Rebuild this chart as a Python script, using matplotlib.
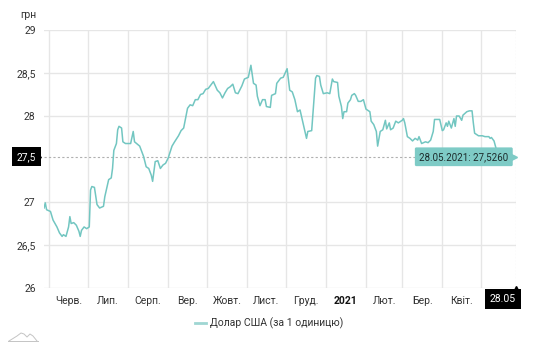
import matplotlib
matplotlib.use("Agg")
import matplotlib.pyplot as plt
import matplotlib.transforms as mtransforms
from matplotlib.lines import Line2D
import pandas as pd

plt.rcParams['font.family'] = ['Roboto', 'DejaVu Sans']

# USD/UAH official rate, days counted from the start date
start_date = "2020-05-28"
end_date = "2021-05-28"
day_offsets = [
    0, 1, 2, 5, 7, 10, 12, 14, 15, 17, 19, 20, 21, 23, 25, 27, 28, 29, 31, 33,
    35, 36, 37, 39, 41, 43, 46, 47, 50, 52, 53, 54, 56, 57, 58, 60, 61, 63, 67, 69,
    70, 74, 77, 79, 81, 83, 84, 86, 88, 90, 92, 94, 96, 99, 101, 104, 106, 108, 111, 113,
    115, 117, 119, 121, 123, 125, 127, 130, 131, 134, 136, 138, 140, 142, 144, 146, 148, 150, 153, 155,
    158, 160, 162, 164, 165, 167, 169, 171, 172, 175, 176, 179, 180, 183, 185, 188, 190, 192, 194, 196,
    198, 200, 203, 204, 207, 210, 211, 213, 214, 216, 219, 221, 223, 224, 227, 228, 230, 231, 232, 234,
    235, 237, 238, 240, 241, 243, 245, 247, 249, 252, 253, 255, 257, 258, 260, 262, 264, 265, 267, 268,
    270, 272, 274, 277, 278, 279, 281, 283, 285, 287, 289, 290, 292, 295, 297, 299, 301, 302, 304, 306,
    308, 309, 311, 312, 313, 315, 317, 318, 319, 321, 323, 324, 327, 329, 331, 332, 333, 336, 339, 341,
    344, 345, 346, 348, 350, 353, 357, 360, 363, 365,
]
usd_rate = [
    26.93, 26.99, 26.91, 26.89, 26.79, 26.71, 26.64, 26.60, 26.62, 26.60,
    26.71, 26.83, 26.75, 26.76, 26.73, 26.66, 26.60, 26.67, 26.71, 26.69,
    26.71, 27.14, 27.18, 27.17, 26.97, 26.93, 26.95, 27.06, 27.26, 27.28,
    27.39, 27.60, 27.68, 27.84, 27.88, 27.86, 27.70, 27.68, 27.68, 27.82,
    27.70, 27.65, 27.53, 27.41, 27.39, 27.31, 27.24, 27.47, 27.48, 27.39,
    27.43, 27.45, 27.51, 27.65, 27.70, 27.77, 27.83, 27.86, 28.09, 28.13,
    28.12, 28.19, 28.19, 28.25, 28.26, 28.31, 28.32, 28.38, 28.40, 28.30,
    28.27, 28.21, 28.27, 28.32, 28.34, 28.37, 28.27, 28.26, 28.35, 28.43,
    28.45, 28.59, 28.38, 28.36, 28.23, 28.12, 28.19, 28.19, 28.11, 28.10,
    28.24, 28.26, 28.38, 28.44, 28.45, 28.55, 28.30, 28.28, 28.19, 28.05,
    28.07, 27.94, 27.74, 27.82, 27.83, 28.44, 28.47, 28.46, 28.36, 28.26,
    28.27, 28.26, 28.43, 28.40, 28.39, 28.23, 28.11, 27.97, 28.05, 28.05,
    28.15, 28.19, 28.24, 28.26, 28.24, 28.17, 28.17, 28.19, 28.08, 28.05,
    27.94, 27.90, 27.82, 27.65, 27.82, 27.84, 27.95, 27.85, 27.92, 27.84,
    27.86, 27.94, 27.92, 27.95, 27.97, 27.92, 27.76, 27.74, 27.71, 27.74,
    27.72, 27.76, 27.68, 27.70, 27.69, 27.72, 27.82, 27.96, 27.96, 27.96,
    27.83, 27.84, 27.92, 27.88, 27.94, 27.86, 27.97, 27.88, 28.00, 28.00,
    27.95, 28.01, 28.05, 28.06, 28.06, 27.92, 27.80, 27.77, 27.77, 27.76,
    27.76, 27.74, 27.75, 27.71, 27.60, 27.57, 27.50, 27.50, 27.53, 27.526,
]

month_labels = ['Черв.', 'Лип.', 'Серп.', 'Вер.', 'Жовт.', 'Лист.', 'Груд.',
                '2021', 'Лют.', 'Бер.', 'Квіт.']
y_ticks = [26, 26.5, 27, 28, 28.5, 29]
series_name = 'Долар США (за 1 одиницю)'

line_color = '#72c6c1'
tip_color = '#7ecbc6'
grid_color = '#e6e6e6'
text_color = '#333333'

dates = pd.Timestamp(start_date) + pd.to_timedelta(day_offsets, unit='D')
t0 = pd.Timestamp(start_date)
t1 = pd.Timestamp(end_date)
last_val = usd_rate[-1]

fig = plt.figure(figsize=(5.37, 3.5), dpi=100)
ax = fig.add_axes([44 / 537, 62 / 350, 472 / 537, 258 / 350])

ax.set_xlim(t0, t1)
ax.set_ylim(26, 29)

# grid: month starts and fixed rate levels
month_starts = pd.date_range('2020-06-01', '2021-05-01', freq='MS')
for m in month_starts:
    ax.axvline(m, color=grid_color, lw=1, zorder=0)
for yv in y_ticks:
    ax.axhline(yv, color=grid_color, lw=1, zorder=0)

ax.plot(dates, usd_rate, color=line_color, lw=1.1, zorder=3)

# current value guides
ax.axhline(last_val, color='#b0b0b0', lw=0.8, ls=(0, (2, 2)), zorder=1)
ax.axvline(t1, color='#c8c8c8', lw=0.8, ls=(0, (1.5, 1.5)), zorder=1)

for s in ax.spines.values():
    s.set_visible(False)

ax.set_yticks(y_ticks)
ax.set_yticklabels([('%g' % v).replace('.', ',') for v in y_ticks])
ax.tick_params(axis='y', length=0, pad=6, labelsize=7.5, labelcolor=text_color)

# month names centred between month starts
bounds = list(month_starts) + [t1]
mids = [bounds[i] + (bounds[i + 1] - bounds[i]) / 2 for i in range(len(month_labels))]
ax.set_xticks(mids)
ax.set_xticklabels(month_labels)
ax.tick_params(axis='x', length=0, pad=6, labelsize=7.5, labelcolor=text_color)
for lab in ax.get_xticklabels():
    if lab.get_text() == '2021':
        lab.set_fontweight('bold')
        lab.set_color('#111111')

# current date box on x axis
xtrans = mtransforms.blended_transform_factory(ax.transData, ax.transAxes)
ax.text(t1, -0.043, t1.strftime('%d.%m'), transform=xtrans, ha='right', va='center',
        fontsize=7.5, color='white',
        bbox=dict(boxstyle='square,pad=0.45', fc='black', ec='none'))
ax.plot([t1], [-0.005], marker='^', ms=4, color='black', transform=xtrans,
        clip_on=False, zorder=5)

# current value box on y axis
ytrans = mtransforms.blended_transform_factory(ax.transAxes, ax.transData)
ax.text(-0.016, last_val, ('%.1f' % last_val).replace('.', ','), transform=ytrans,
        ha='right', va='center', fontsize=7.5, color='white',
        bbox=dict(boxstyle='square,pad=0.45', fc='black', ec='none'))
ax.plot([-0.012], [last_val], marker='>', ms=4, color='black', transform=ytrans,
        clip_on=False, zorder=5)

# tooltip for the last point
tip = '%s: %s' % (t1.strftime('%d.%m.%Y'), ('%.4f' % last_val).replace('.', ','))
ax.annotate(tip, xy=(t1, last_val), xytext=(-5.5, 0), textcoords='offset points',
            ha='right', va='center', fontsize=7, color='#1c2b2b', zorder=6,
            bbox=dict(boxstyle='round,pad=0.45,rounding_size=0.15', fc=tip_color, ec='none'))
ax.plot([t1], [last_val], marker='>', ms=4, color=tip_color,
        transform=ax.transData + mtransforms.ScaledTranslation(-1.5 / 72, 0, fig.dpi_scale_trans),
        clip_on=False, zorder=6)

fig.text(20 / 537, 1 - 15 / 350, 'грн', fontsize=7.5, color=text_color, va='center')

# legend entry
fig.add_artist(Line2D([195 / 537, 206 / 537], [1 - 323 / 350] * 2, color='#9fd6d3', lw=2))
fig.text(210 / 537, 1 - 323 / 350, series_name, fontsize=7.5, color=text_color, va='center')

# small mountain logo
lx = [9, 17, 21, 24, 27, 30, 33, 37]
ly = [341, 336, 333, 334, 337, 334, 336, 341]
fig.add_artist(Line2D([v / 537 for v in lx], [1 - v / 350 for v in ly], color='#c4c4c4', lw=0.7))
fig.add_artist(Line2D([8 / 537, 38 / 537], [1 - 341 / 350] * 2, color='#c4c4c4', lw=0.7))

fig.savefig('out.png', dpi=100)
